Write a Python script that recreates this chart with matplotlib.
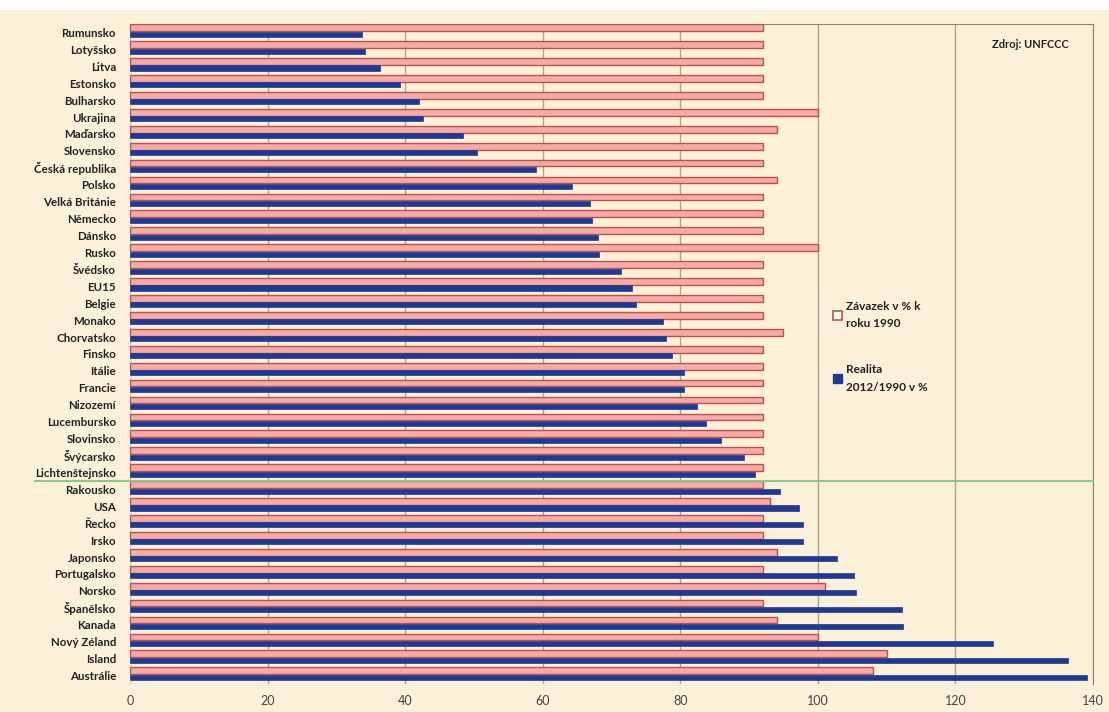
import matplotlib.pyplot as plt
from matplotlib.patches import Patch
import numpy as np

plt.rcParams['font.family'] = ['Lato', 'DejaVu Sans']

zeme = ['Rumunsko', 'Lotyšsko', 'Litva', 'Estonsko', 'Bulharsko', 'Ukrajina',
        'Maďarsko', 'Slovensko', 'Česká republika', 'Polsko', 'Velká Británie',
        'Německo', 'Dánsko', 'Rusko', 'Švédsko', 'EU15', 'Belgie', 'Monako',
        'Chorvatsko', 'Finsko', 'Itálie', 'Francie', 'Nizozemí', 'Lucembursko',
        'Slovinsko', 'Švýcarsko', 'Lichtenštejnsko', 'Rakousko', 'USA', 'Řecko',
        'Irsko', 'Japonsko', 'Portugalsko', 'Norsko', 'Španělsko', 'Kanada',
        'Nový Zéland', 'Island', 'Austrálie']
zavazek = [92, 92, 92, 92, 92, 100, 94, 92, 92, 94, 92, 92, 92, 100, 92, 92, 92, 92,
           95, 92, 92, 92, 92, 92, 92, 92, 92, 92, 93, 92, 92, 94, 92, 101, 92, 94,
           100, 110, 108]
realita = [33.7, 34.1, 36.3, 39.2, 42.0, 42.6, 48.4, 50.4, 59.0, 64.3, 66.9, 67.2,
           68.0, 68.2, 71.4, 73.0, 73.5, 77.5, 77.9, 78.8, 80.5, 80.6, 82.5, 83.8,
           85.9, 89.2, 90.8, 94.5, 97.2, 97.8, 97.9, 102.8, 105.2, 105.5, 112.3,
           112.4, 125.5, 136.3, 139.1]
popisky = ['Závazek v % k\nroku 1990', 'Realita\n2012/1990 v %']

bg = '#fdf1da'
fig = plt.figure(figsize=(11.09, 7.12), dpi=100, facecolor=bg)
ax = fig.add_axes([130/1109, 1-684/712, 963/1109, 660/712])
ax.set_facecolor(bg)

y = np.arange(len(zeme))
ax.barh(y - 0.28, zavazek, height=0.4, color='#f6aca5', edgecolor='#c0504d',
        linewidth=1, zorder=3)
ax.barh(y + 0.1, realita, height=0.3, color='#1f3a93', edgecolor='#1f3a93',
        linewidth=0.5, zorder=3)

ax.set_xlim(0, 140)
ax.set_ylim(len(zeme) - 0.5, -0.5)
ax.set_xticks(range(0, 141, 20))
ax.set_yticks(y)
ax.set_yticklabels(zeme, fontsize=8.3, fontweight='bold', color='#222222')
ax.tick_params(axis='x', labelsize=9, colors='#444444', length=0, pad=8)
ax.tick_params(axis='y', length=0, pad=10)
ax.grid(axis='x', color='#a8a890', linewidth=1, zorder=0)
for s in ['top', 'right']:
    ax.spines[s].set_color('#8a8a70')
ax.spines['left'].set_color('#d8d8d0')
ax.spines['bottom'].set_visible(False)

# hranice mezi zememi
ax.axhline(26.5, xmin=(35-130)/963, xmax=1, color='#8cc88c', linewidth=1.5,
           clip_on=False, zorder=4)

handles = [Patch(facecolor='white', edgecolor='#c0504d', linewidth=1.2),
           Patch(facecolor='#1f3a93', edgecolor='#1f3a93')]
leg = fig.legend(handles, popisky, loc='upper left', bbox_to_anchor=(822/1109, 1-290/712),
                 frameon=False, prop={'size': 8.5, 'weight': 'bold'},
                 handlelength=0.8, handleheight=0.8, handletextpad=0.3,
                 labelspacing=3.0)
for t in leg.get_texts():
    t.set_color('#222222')
    t.set_linespacing(1.7)

ax.text(1030/1109, 1-45/712, 'Zdroj: UNFCCC', transform=fig.transFigure,
        ha='center', va='center', fontsize=8, fontweight='bold', color='#222222')

fig.patches.append(plt.Rectangle((0, 1-10/712), 1, 10/712, transform=fig.transFigure,
                                 facecolor='white', edgecolor='none', zorder=-1))

fig.savefig('out.png', dpi=100, facecolor=bg)
